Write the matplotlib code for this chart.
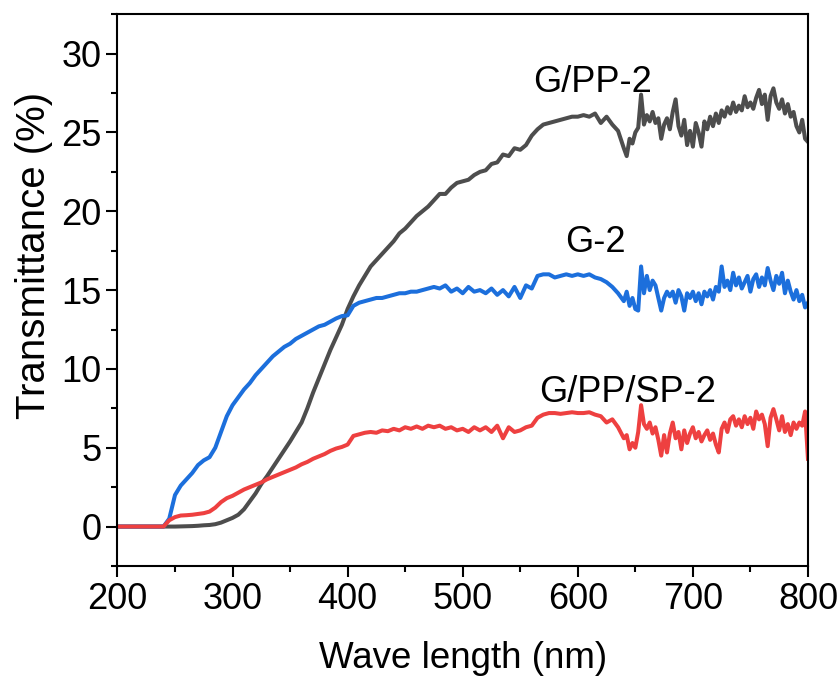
import numpy as np
import matplotlib.pyplot as plt
from matplotlib.ticker import MultipleLocator

plt.rcParams['font.family'] = ['Liberation Sans', 'DejaVu Sans']

# wavelength grid: 5 nm up to 635, then 2.5 nm where the spectra get noisy
wl = np.concatenate([np.arange(200, 640, 5), np.arange(640, 800.1, 2.5)])

# G/PP-2 (grey)
t_gpp = [
    0, 0, 0, 0, 0, 0, 0, 0, 0, 0,
    0.0, 0.01, 0.02, 0.03, 0.05, 0.08, 0.1, 0.15, 0.25, 0.4,
    0.55, 0.75, 1.1, 1.6, 2.1, 2.7, 3.2, 3.75, 4.3, 4.85,
    5.4, 6.0, 6.6, 7.5, 8.5, 9.4, 10.3, 11.2, 12.0, 12.8,
    13.8, 14.6, 15.3, 15.9, 16.5, 16.9, 17.3, 17.7, 18.1, 18.6,
    18.9, 19.3, 19.7, 20.0, 20.3, 20.7, 21.1, 21.1, 21.5, 21.8,
    21.9, 22.0, 22.3, 22.5, 22.6, 23.0, 23.1, 23.6, 23.5, 24.0,
    23.9, 24.2, 24.8, 25.2, 25.5, 25.6, 25.7, 25.8, 25.9, 26.0,
    26.0, 26.1, 26.0, 26.2, 25.6, 26.0, 25.5, 25.1,
    # 640 - 800 (2.5 nm)
    24.0, 23.5, 24.6, 24.3, 25.0, 25.3, 27.4, 25.5, 26.1, 25.7,
    26.3, 25.6, 25.9, 24.6, 25.5, 25.9, 25.2, 26.3, 27.1, 25.4,
    24.8, 25.8, 24.2, 25.1, 24.1, 25.6, 25.0, 24.1, 25.7, 25.2,
    26.0, 25.4, 26.2, 25.6, 26.4, 26.0, 26.6, 26.2, 26.9, 26.3,
    26.7, 26.4, 27.3, 26.6, 26.9, 26.5, 27.2, 27.7, 26.8, 27.4,
    25.8, 27.3, 27.8, 26.9, 26.5, 27.1, 26.2, 26.8, 26.0, 26.3,
    25.4, 25.0, 25.8, 24.6, 24.4,
]

# G-2 (blue)
t_g = [
    0, 0, 0, 0, 0, 0, 0, 0, 0, 0.5,
    2.0, 2.6, 3.0, 3.4, 3.9, 4.2, 4.4, 5.0, 6.0, 7.0,
    7.7, 8.2, 8.7, 9.1, 9.6, 10.0, 10.4, 10.8, 11.1, 11.4,
    11.6, 11.9, 12.1, 12.3, 12.5, 12.7, 12.8, 13.0, 13.2, 13.35,
    13.4, 14.0, 14.2, 14.3, 14.4, 14.5, 14.5, 14.6, 14.7, 14.8,
    14.8, 14.9, 14.9, 15.0, 15.1, 15.2, 15.1, 15.3, 14.9, 15.1,
    14.8, 15.2, 14.9, 15.0, 14.8, 15.1, 14.7, 15.0, 14.6, 15.2,
    14.5, 15.3, 15.1, 15.9, 16.0, 16.0, 15.8, 15.9, 16.0, 15.9,
    16.0, 15.9, 16.0, 15.8, 15.7, 15.5, 15.2, 14.8,
    # 640 - 800 (2.5 nm)
    14.3, 14.9, 14.0, 14.5, 13.8, 13.7, 16.5, 14.8, 15.9, 15.0,
    15.6, 15.3, 14.5, 13.7, 14.5, 14.9, 14.6, 14.9, 14.2, 15.0,
    14.6, 13.7, 14.8, 14.5, 14.9, 14.3, 14.8, 14.1, 14.9, 14.6,
    15.0, 14.4, 15.2, 14.9, 16.5, 15.2, 15.6, 15.0, 16.1, 15.3,
    15.8, 15.1, 15.5, 15.9, 14.9, 15.7, 16.0, 15.2, 15.8, 15.3,
    16.4, 15.6, 15.0, 15.9, 15.4, 16.1, 14.8, 15.6, 14.9, 14.4,
    15.0, 14.3, 14.7, 13.9, 14.2,
]

# G/PP/SP-2 (red)
t_gppsp = [
    0, 0, 0, 0, 0, 0, 0, 0, 0, 0.4,
    0.6, 0.7, 0.72, 0.75, 0.8, 0.85, 0.95, 1.2, 1.55, 1.8,
    1.95, 2.15, 2.35, 2.5, 2.65, 2.8, 3.0, 3.15, 3.3, 3.45,
    3.6, 3.75, 3.95, 4.1, 4.3, 4.45, 4.6, 4.8, 4.95, 5.05,
    5.2, 5.75, 5.85, 5.95, 6.0, 5.95, 6.1, 6.05, 6.2, 6.1,
    6.3, 6.2, 6.35, 6.2, 6.4, 6.3, 6.4, 6.2, 6.3, 6.1,
    6.2, 6.0, 6.3, 6.1, 6.3, 6.0, 6.4, 5.6, 6.3, 6.0,
    6.1, 6.3, 6.4, 6.9, 7.1, 7.2, 7.2, 7.15, 7.2, 7.25,
    7.2, 7.2, 7.25, 7.1, 7.0, 6.6, 6.8, 6.3,
    # 640 - 800 (2.5 nm)
    5.6, 5.8, 4.9, 5.3, 5.0, 6.0, 7.7, 6.5, 6.2, 6.6,
    5.9, 6.3, 5.5, 4.5, 5.8, 4.7, 5.9, 6.6, 5.6, 6.0,
    4.9, 6.1, 5.3, 5.9, 6.3, 5.6, 6.0, 5.4, 5.8, 6.1,
    5.5, 5.9, 5.2, 4.7, 6.2, 6.6, 6.0, 6.8, 7.0, 6.4,
    6.8, 6.3, 7.0, 6.5, 6.9, 6.2, 7.3, 6.8, 7.1, 6.5,
    5.1, 6.9, 7.45, 6.8, 6.1, 7.0, 6.0, 6.5, 5.8, 6.6,
    6.2, 6.6, 6.4, 7.3, 4.3,
]

labels = ['G/PP-2', 'G-2', 'G/PP/SP-2']
colors = ['#4d4d4d', '#1c6fdc', '#ee4040']
label_pos = [(613, 28.2), (615, 18.0), (643, 8.5)]

fig = plt.figure(figsize=(8.39, 6.77), dpi=100)
ax = fig.add_axes([0.140, 0.164, 0.823, 0.815])

for y, c in zip([t_gpp, t_g, t_gppsp], colors):
    ax.plot(wl, y, color=c, lw=2.9)

for (x, y), txt in zip(label_pos, labels):
    ax.text(x, y, txt, fontsize=26, ha='center', va='center')

ax.set_xlim(200, 800)
ax.set_ylim(-2.5, 32.5)
ax.xaxis.set_major_locator(MultipleLocator(100))
ax.xaxis.set_minor_locator(MultipleLocator(50))
ax.yaxis.set_major_locator(MultipleLocator(5))
ax.yaxis.set_minor_locator(MultipleLocator(2.5))
ax.tick_params(which='both', direction='out', width=1.5, labelsize=26, top=False, right=False)
ax.tick_params(which='major', length=8)
ax.tick_params(which='minor', length=4)
for s in ax.spines.values():
    s.set_linewidth(1.5)

ax.set_xlabel("Wave length (nm)", fontsize=26.5, labelpad=17)
ax.set_ylabel("Transmittance (%)", fontsize=29)
ax.yaxis.set_label_coords(-0.093, 0.563)

plt.savefig("out.png", dpi=100)
